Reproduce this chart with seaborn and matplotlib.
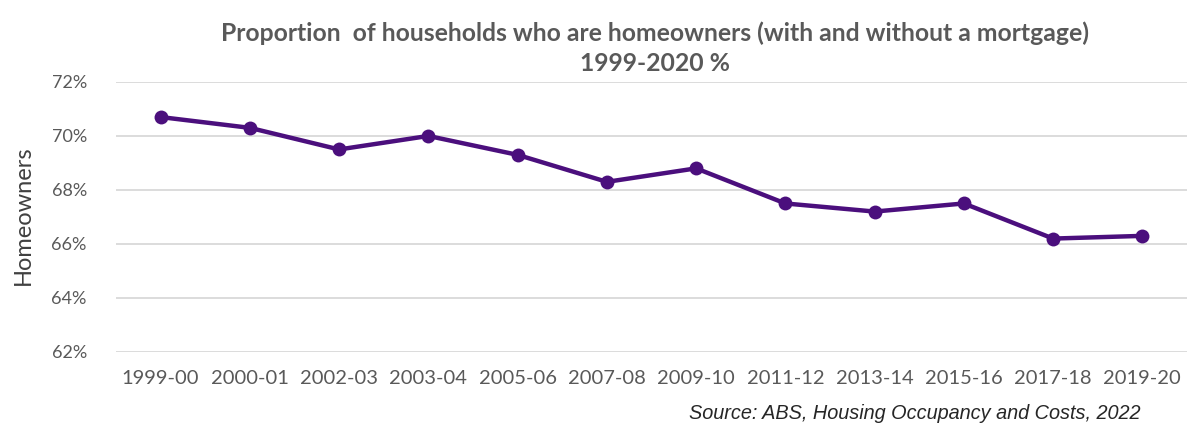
import matplotlib
matplotlib.use("Agg")
import matplotlib.pyplot as plt
import seaborn as sns
import pandas as pd

years = ["1999-00", "2000-01", "2002-03", "2003-04", "2005-06", "2007-08",
         "2009-10", "2011-12", "2013-14", "2015-16", "2017-18", "2019-20"]
homeowners = [70.7, 70.3, 69.5, 70.0, 69.3, 68.3, 68.8, 67.5, 67.2, 67.5, 66.2, 66.3]
yticks = [62, 64, 66, 68, 70, 72]
ytick_labels = ["62%", "64%", "66%", "68%", "70%", "72%"]

sns.set_theme(style="white")
plt.rcParams['font.family'] = ['Lato', 'DejaVu Sans']

df = pd.DataFrame({"year": years, "value": homeowners})

fig = plt.figure(figsize=(11.87, 4.29), dpi=100)
ax = fig.add_axes([0.0977, 0.1795, 0.9023, 0.6295])

sns.lineplot(data=df, x="year", y="value", ax=ax, color="#4B0F7D",
             linewidth=3.2, marker="o", markersize=10, markeredgewidth=0,
             sort=False)

ax.set_xlim(-0.5, len(years) - 0.5)
ax.set_ylim(62, 72)
ax.set_yticks(yticks)
ax.set_yticklabels(ytick_labels)
ax.yaxis.grid(True, color="#D9D9D9", linewidth=1.3)
ax.xaxis.grid(False)
for s in ax.spines.values():
    s.set_visible(False)
ax.tick_params(axis="both", length=0, labelcolor="#595959")
ax.tick_params(axis="y", pad=21, labelsize=13)
ax.tick_params(axis="x", pad=13, labelsize=14.5)
ax.set_xlabel("")
ax.set_ylabel("Homeowners", fontsize=17, color="#404040", labelpad=0)
ax.yaxis.set_label_coords(-0.077, 0.505)

fig.text(0.552, 0.922, "Proportion  of households who are homeowners (with and without a mortgage)",
         ha="center", va="center", fontsize=17.8, fontweight="bold", color="#595959")
fig.text(0.552, 0.853, "1999-2020 %", ha="center", va="center", fontsize=17.8,
         fontweight="bold", color="#595959")
fig.text(0.961, 0.035, "Source: ABS, Housing Occupancy and Costs, 2022", ha="right",
         va="center", fontsize=14.3, style="italic", color="#262626",
         family=["Liberation Sans", "DejaVu Sans"])

fig.savefig("out.png", dpi=100, facecolor="white")
